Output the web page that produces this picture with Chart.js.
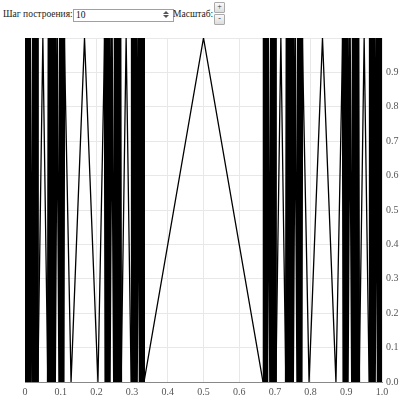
<!DOCTYPE html>
<html>
<head>
<meta charset="utf-8">
<script src="https://cdn.jsdelivr.net/npm/chart.js@4/dist/chart.umd.min.js"></script>
<style>
  body { margin: 0; background: #fff; font-family: "Liberation Serif", "Times New Roman", serif; }
  #wrap { position: relative; width: 404px; height: 403px; overflow: hidden; }
  .lbl { position: absolute; font-size: 9.5px; color: #222; white-space: nowrap; }
  #step { position: absolute; left: 73px; top: 9px; width: 97px; height: 11px; border: 1px solid #7ea6d6; font-size: 9.5px; line-height: 11px; padding: 0 0 0 2px; box-sizing: content-box; color: #111; }
  #spin { position: absolute; left: 163px; top: 11px; width: 6px; height: 8px; }
  #spin i { display: block; width: 0; height: 0; border-left: 3px solid transparent; border-right: 3px solid transparent; margin-bottom: 1px; }
  #spin i.up { border-bottom: 3px solid #555; }
  #spin i.dn { border-top: 3px solid #555; }
  .btn { position: absolute; left: 214px; width: 9px; height: 9px; border: 1px solid #aaa; border-radius: 1px; background: linear-gradient(#fafafa, #ddd); font-size: 8px; line-height: 8px; text-align: center; color: #333; }
  #chart { position: absolute; left: 0; top: 28px; }
</style>
</head>
<body>
<div id="wrap">
  <span class="lbl" style="left:3px; top:9px;">Шаг построения:</span>
  <div id="step">10</div>
  <div id="spin"><i class="up"></i><i class="dn"></i></div>
  <span class="lbl" style="left:173px; top:9px;">Масштаб:</span>
  <div class="btn" style="top:2px;">+</div>
  <div class="btn" style="top:14px;">-</div>
  <canvas id="chart" width="404" height="375"></canvas>
</div>
<script>
// x positions of the polyline vertices
const xValues = [
  0.0000, 0.0020, 0.0040, 0.0060, 0.0080, 0.0100, 0.0120, 0.0140, 0.0200, 0.0220,
  0.0240, 0.0260, 0.0280, 0.0300, 0.0320, 0.0340, 0.0360, 0.0500, 0.0640, 0.0660,
  0.0680, 0.0700, 0.0720, 0.0740, 0.0760, 0.0780, 0.0800, 0.0820, 0.0840, 0.0900,
  0.0960, 0.0980, 0.1000, 0.1020, 0.1040, 0.1060, 0.1080, 0.1100, 0.1290, 0.1667,
  0.2043, 0.2233, 0.2253, 0.2273, 0.2293, 0.2313, 0.2333, 0.2353, 0.2373, 0.2433,
  0.2493, 0.2513, 0.2533, 0.2553, 0.2573, 0.2593, 0.2613, 0.2633, 0.2653, 0.2673,
  0.2693, 0.2833, 0.2973, 0.2993, 0.3013, 0.3033, 0.3053, 0.3073, 0.3093, 0.3113,
  0.3133, 0.3193, 0.3213, 0.3233, 0.3253, 0.3273, 0.3293, 0.3313, 0.3333,
  0.5000,
  0.6667, 0.6687, 0.6707, 0.6727, 0.6747, 0.6767, 0.6787, 0.6807, 0.6867, 0.6887,
  0.6907, 0.6927, 0.6947, 0.6967, 0.6987, 0.7007, 0.7027, 0.7167, 0.7307, 0.7327,
  0.7347, 0.7367, 0.7387, 0.7407, 0.7427, 0.7447, 0.7467, 0.7487, 0.7507, 0.7567,
  0.7627, 0.7647, 0.7667, 0.7687, 0.7707, 0.7727, 0.7747, 0.7767, 0.7957, 0.8333,
  0.8710, 0.8900, 0.8920, 0.8940, 0.8960, 0.8980, 0.9000, 0.9020, 0.9040, 0.9100,
  0.9160, 0.9180, 0.9200, 0.9220, 0.9240, 0.9260, 0.9280, 0.9300, 0.9320, 0.9340,
  0.9360, 0.9500, 0.9640, 0.9660, 0.9680, 0.9700, 0.9720, 0.9740, 0.9760, 0.9780,
  0.9800, 0.9860, 0.9880, 0.9900, 0.9920, 0.9940, 0.9960, 0.9980, 1.0000
];
// y value at each vertex
const yValues = [
  0, 1, 0, 1, 0, 1, 0, 1, 0, 1,
  0, 1, 0, 1, 0, 1, 0, 1, 0, 1,
  0, 1, 0, 1, 0, 1, 0, 1, 0, 1,
  0, 1, 0, 1, 0, 1, 0, 1, 0, 1,
  0, 1, 0, 1, 0, 1, 0, 1, 0, 1,
  0, 1, 0, 1, 0, 1, 0, 1, 0, 1,
  0, 1, 0, 1, 0, 1, 0, 1, 0, 1,
  0, 1, 0, 1, 0, 1, 0, 1, 0,
  1,
  0, 1, 0, 1, 0, 1, 0, 1, 0, 1,
  0, 1, 0, 1, 0, 1, 0, 1, 0, 1,
  0, 1, 0, 1, 0, 1, 0, 1, 0, 1,
  0, 1, 0, 1, 0, 1, 0, 1, 0, 1,
  0, 1, 0, 1, 0, 1, 0, 1, 0, 1,
  0, 1, 0, 1, 0, 1, 0, 1, 0, 1,
  0, 1, 0, 1, 0, 1, 0, 1, 0, 1,
  0, 1, 0, 1, 0, 1, 0, 1, 0
];
const xTicks = [0, 0.1, 0.2, 0.3, 0.4, 0.5, 0.6, 0.7, 0.8, 0.9, 1.0];
const yTicks = [0, 0.1, 0.2, 0.3, 0.4, 0.5, 0.6, 0.7, 0.8, 0.9, 1.0];

const points = xValues.map((x, i) => ({ x: x, y: yValues[i] }));
const tickFont = { family: '"Liberation Serif", "Times New Roman", serif', size: 10 };

new Chart(document.getElementById('chart').getContext('2d'), {
    type: 'line',
    data: {
        datasets: [{
            data: points,
            borderColor: '#000',
            borderWidth: 1.3,
            pointRadius: 0,
            tension: 0,
            fill: false,
            segment: {
                // the steep, tightly packed strokes blend into solid bars
                borderWidth: (ctx) => Math.abs(ctx.p1.x - ctx.p0.x) < 3 ? 2 : 1.3
            }
        }]
    },
    options: {
        responsive: false,
        animation: false,
        layout: { padding: { left: 25, top: 10, right: 0, bottom: 0 } },
        plugins: { legend: { display: false }, tooltip: { enabled: false } },
        scales: {
            x: {
                type: 'linear',
                min: 0,
                max: 1,
                afterBuildTicks: (scale) => { scale.ticks = xTicks.map(v => ({ value: v })); },
                afterFit: (scale) => { scale.height = 21; },
                grid: { color: '#e8e8e8', drawTicks: false },
                border: { color: '#888' },
                ticks: {
                    padding: 4,
                    color: '#555',
                    font: tickFont,
                    maxRotation: 0,
                    autoSkip: false,
                    callback: (v) => v === 0 ? '0' : v.toFixed(1)
                }
            },
            y: {
                position: 'right',
                min: 0,
                max: 1,
                afterBuildTicks: (scale) => { scale.ticks = yTicks.map(v => ({ value: v })); },
                afterFit: (scale) => { scale.width = 22; },
                grid: { color: '#e8e8e8', drawTicks: false },
                border: { display: false },
                ticks: {
                    padding: 4,
                    color: '#555',
                    font: tickFont,
                    callback: (v) => v < 0.99 ? v.toFixed(1) : ''
                }
            }
        }
    }
});
</script>
</body>
</html>
